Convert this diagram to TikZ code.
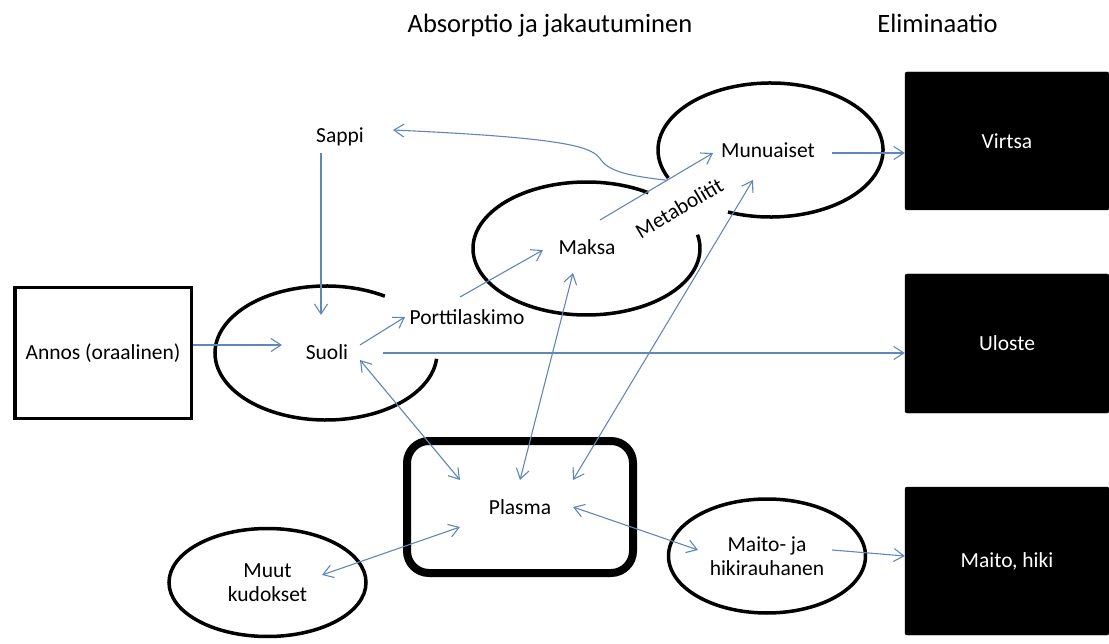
\documentclass[tikz,border=0pt]{standalone}
\usepackage{fontspec}
\setmainfont{Carlito}
\usetikzlibrary{arrows.meta,calc,shapes.geometric}
\definecolor{arr}{RGB}{95,135,185}
\begin{document}
\begin{tikzpicture}[x=1pt,y=-1pt,
  lbl/.style={inner sep=0pt, font=\fontsize{21.5}{24}\selectfont, align=center},
  ttl/.style={inner sep=0pt, font=\fontsize{26.5}{30}\selectfont},
  hd/.tip={Straight Barb[length=10pt,width=13pt]},
  con/.style={draw=arr, line width=1.1pt, -hd},
  dcon/.style={draw=arr, line width=1.1pt, hd-hd},
  ell/.style={draw=black, line width=3.5pt},
  outbox/.style={fill=black, draw=black, rounded corners=2pt, minimum width=204pt, inner sep=0pt, text=white, font=\fontsize{21.5}{24}\selectfont},
]
\useasboundingbox (0,0) rectangle (1109,644);

% titles
\node[ttl, anchor=base] (t1) at (550,33) {Absorptio ja jakautuminen};
\node[ttl, anchor=base] (t2) at (937.5,33) {Eliminaatio};

% partial ellipses
\draw[ell] (326,353) ++(-58:111 and 67) arc[start angle=-58, end angle=-355, x radius=111, y radius=67];
\draw[ell] (586.5,248.5) ++(-57:113.5 and 66.5) arc[start angle=-57, end angle=-372, x radius=113.5, y radius=66.5];
\draw[ell] (770.5,150) ++(-247.8:112.5 and 67) arc[start angle=-247.8, end angle=-564.7, x radius=112.5, y radius=67];

% nodes
\node[lbl, draw, line width=3.5pt, minimum width=176.5pt, minimum height=130.5pt] (annos) at (103,353) {Annos (oraalinen)};
\node[lbl] (suoli) at (327,352) {Suoli};
\node[lbl] (sappi) at (340,137) {Sappi};
\node[lbl] (porttilaskimo) at (467,317) {Porttilaskimo};
\node[lbl] (maksa) at (587,247) {Maksa};
\node[lbl] (munuaiset) at (768,150) {Munuaiset};
\node[lbl, draw, line width=8pt, rounded corners=22pt, minimum width=226pt, minimum height=132pt] (plasma) at (520,507) {Plasma};
\node[lbl, ell, ellipse, minimum width=197pt, minimum height=108pt] (muut) at (267.5,582.5) {Muut\\kudokset};
\node[lbl, ell, ellipse, minimum width=197pt, minimum height=114pt] (maito) at (767,556) {Maito- ja\\hikirauhanen};
\node[outbox, minimum height=138pt] (virtsa) at (1007,141) {Virtsa};
\node[outbox, minimum height=139pt] (uloste) at (1007,343.5) {Uloste};
\node[outbox, minimum height=148pt] (maitohiki) at (1007,561) {Maito, hiki};

% connectors
\draw[con] ($(annos.east)+(0,-8)$) -- ($(suoli)+(-45,-7)$);
\draw[con] ($(sappi)+(-19,16)$) -- ($(suoli)+(-6,-37)$);
\draw[con] ($(suoli)+(33,-7)$) -- ($(porttilaskimo)+(-62,0)$);
\draw[con] ($(suoli)+(56,1)$) -- ($(uloste.west)+(0,9.5)$);
\draw[con] ($(porttilaskimo)+(-7,-20)$) -- ($(maksa)+(-44,3)$);
\draw[con] ($(maksa)+(13,-27)$) -- coordinate[pos=0.593] (metab) node[lbl, sloped, pos=0.566, below=22pt] {Metabolitit} ($(munuaiset)+(-55,3)$);
\draw[con] (metab) .. controls (630,176) and (610,172) .. (601,160) .. controls (593,147) and (570,138) .. ($(sappi)+(53,-7)$);
\draw[con] ($(munuaiset)+(64,3)$) -- ($(virtsa.west)+(0,12)$);
\draw[dcon] ($(suoli)+(33,8)$) -- ($(plasma)+(-60,-27)$);
\draw[dcon] ($(maksa)+(-14,26)$) -- ($(plasma)+(0,-27)$);
\draw[dcon] ($(munuaiset)+(-15,30)$) -- ($(plasma)+(53,-27)$);
\draw[dcon] ($(plasma)+(-60,20)$) -- ($(muut)+(54.5,-7.5)$);
\draw[dcon] ($(plasma)+(53,0)$) -- ($(maito)+(-69,-6)$);
\draw[con] ($(maito)+(65,-6)$) -- ($(maitohiki.west)+(0,-5)$);
\end{tikzpicture}
\end{document}
